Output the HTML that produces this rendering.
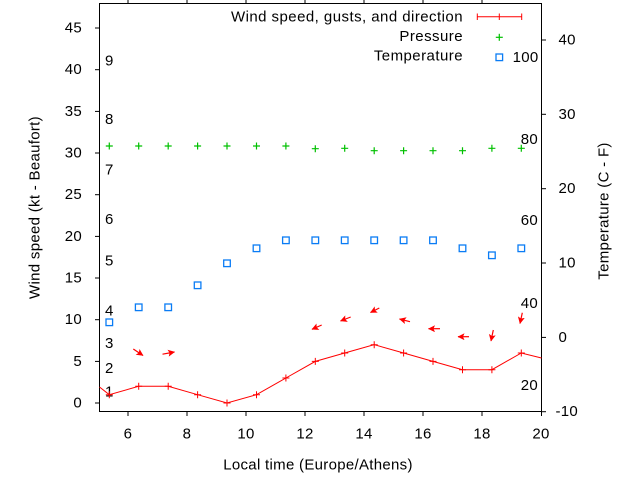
<!DOCTYPE html>
<html><head><meta charset="utf-8"><style>
html,body{margin:0;padding:0;background:#fff;}
svg{display:block;}
text{font-family:"Liberation Sans",Arial,sans-serif;font-size:15px;fill:#000;letter-spacing:0.3px;}
.lg text{letter-spacing:0.45px;}
</style></head><body>
<svg width="640" height="480" viewBox="0 0 640 480" xmlns="http://www.w3.org/2000/svg">
<defs>
<marker id="ah" markerWidth="10" markerHeight="10" refX="6.5" refY="3.5" orient="auto" markerUnits="userSpaceOnUse">
<path d="M0,0 L7,3.5 L0,7 L1.5,3.5 z" fill="#ff0000"/>
</marker>
</defs>
<rect x="0" y="0" width="640" height="480" fill="#fff"/>
<!-- frame -->
<rect x="99.5" y="3.5" width="442" height="408" fill="none" stroke="#000" stroke-width="1"/>
<!-- left ticks -->
<g stroke="#000" stroke-width="1">
<line x1="95" y1="403" x2="99.5" y2="403"/>
<line x1="95" y1="361.4" x2="99.5" y2="361.4"/>
<line x1="95" y1="319.7" x2="99.5" y2="319.7"/>
<line x1="95" y1="278" x2="99.5" y2="278"/>
<line x1="95" y1="236.4" x2="99.5" y2="236.4"/>
<line x1="95" y1="194.7" x2="99.5" y2="194.7"/>
<line x1="95" y1="153" x2="99.5" y2="153"/>
<line x1="95" y1="111.4" x2="99.5" y2="111.4"/>
<line x1="95" y1="69.7" x2="99.5" y2="69.7"/>
<line x1="95" y1="28" x2="99.5" y2="28"/>
<!-- right ticks -->
<line x1="541.5" y1="411.7" x2="546" y2="411.7"/>
<line x1="541.5" y1="337.4" x2="546" y2="337.4"/>
<line x1="541.5" y1="263" x2="546" y2="263"/>
<line x1="541.5" y1="188.7" x2="546" y2="188.7"/>
<line x1="541.5" y1="114.3" x2="546" y2="114.3"/>
<line x1="541.5" y1="40" x2="546" y2="40"/>
<!-- bottom ticks -->
<line x1="128" y1="411.5" x2="128" y2="416"/>
<line x1="187" y1="411.5" x2="187" y2="416"/>
<line x1="246" y1="411.5" x2="246" y2="416"/>
<line x1="305" y1="411.5" x2="305" y2="416"/>
<line x1="364" y1="411.5" x2="364" y2="416"/>
<line x1="423" y1="411.5" x2="423" y2="416"/>
<line x1="482" y1="411.5" x2="482" y2="416"/>
<line x1="541.5" y1="411.5" x2="541.5" y2="416"/>
<!-- top ticks -->
<line x1="128" y1="0" x2="128" y2="3.5"/>
<line x1="187" y1="0" x2="187" y2="3.5"/>
<line x1="246" y1="0" x2="246" y2="3.5"/>
<line x1="305" y1="0" x2="305" y2="3.5"/>
<line x1="364" y1="0" x2="364" y2="3.5"/>
<line x1="423" y1="0" x2="423" y2="3.5"/>
<line x1="482" y1="0" x2="482" y2="3.5"/>
</g>
<!-- left tick labels -->
<g text-anchor="end" dominant-baseline="central">
<text x="82" y="403">0</text>
<text x="82" y="361.4">5</text>
<text x="82" y="319.7">10</text>
<text x="82" y="278">15</text>
<text x="82" y="236.4">20</text>
<text x="82" y="194.7">25</text>
<text x="82" y="153">30</text>
<text x="82" y="111.4">35</text>
<text x="82" y="69.7">40</text>
<text x="82" y="28">45</text>
</g>
<!-- right tick labels -->
<g text-anchor="start" dominant-baseline="central">
<text x="555.5" y="411.7">-10</text>
<text x="558.5" y="337.4">0</text>
<text x="558.5" y="263">10</text>
<text x="558.5" y="188.7">20</text>
<text x="558.5" y="114.3">30</text>
<text x="558.5" y="40">40</text>
</g>
<!-- bottom tick labels -->
<g text-anchor="middle" dominant-baseline="central">
<text x="128" y="434">6</text>
<text x="187" y="434">8</text>
<text x="246" y="434">10</text>
<text x="305" y="434">12</text>
<text x="364" y="434">14</text>
<text x="423" y="434">16</text>
<text x="482" y="434">18</text>
<text x="541" y="434">20</text>
</g>
<!-- axis titles -->
<text x="318" y="465" text-anchor="middle" dominant-baseline="central">Local time (Europe/Athens)</text>
<text transform="translate(35,207.5) rotate(-90)" text-anchor="middle" dominant-baseline="central">Wind speed (kt - Beaufort)</text>
<text transform="translate(604,211) rotate(-90)" text-anchor="middle" dominant-baseline="central">Temperature (C - F)</text>
<!-- Beaufort labels -->
<g text-anchor="start" dominant-baseline="central">
<text x="105" y="392">1</text>
<text x="105" y="368.5">2</text>
<text x="105" y="343.5">3</text>
<text x="105" y="311">4</text>
<text x="105" y="261">5</text>
<text x="105" y="219.5">6</text>
<text x="105" y="170">7</text>
<text x="105" y="119.5">8</text>
<text x="105" y="61">9</text>
</g>
<!-- Fahrenheit labels -->
<g text-anchor="end" dominant-baseline="central">
<text x="538.5" y="57.3">100</text>
<text x="538" y="139.3">80</text>
<text x="538" y="220.7">60</text>
<text x="538" y="303.3">40</text>
<text x="538" y="385.7">20</text>
</g>
<!-- legend -->
<g class="lg" text-anchor="end" dominant-baseline="central">
<text x="463" y="17">Wind speed, gusts, and direction</text>
<text x="463" y="36.5">Pressure</text>
<text x="463" y="56">Temperature</text>
</g>
<g stroke="#ff0000" stroke-width="1">
<line x1="477.3" y1="16.7" x2="521.7" y2="16.7"/>
<line x1="477.3" y1="13.5" x2="477.3" y2="20"/>
<line x1="521.7" y1="13.5" x2="521.7" y2="20"/>
<line x1="499.3" y1="13.5" x2="499.3" y2="20"/>
</g>
<g stroke="#00c000" stroke-width="1.2">
<line x1="495.8" y1="37.3" x2="502.8" y2="37.3"/>
<line x1="499.3" y1="33.8" x2="499.3" y2="40.8"/>
</g>
<rect x="496" y="54" width="6.6" height="6.6" fill="none" stroke="#0a7cf5" stroke-width="1.3"/>
<!-- wind line -->
<polyline fill="none" stroke="#ff0000" stroke-width="1" points="99.5,387 109.3,394.7 138.7,386.3 168.2,386.3 197.6,394.7 227,403 256.5,394.7 285.9,378 315.3,361.4 344.7,353 374.2,344.7 403.6,353 433,361.4 462.5,369.7 491.9,369.7 521.3,353 541.5,358"/>
<g stroke="#ff0000" stroke-width="1">
<path d="M109.3,391.2v7M138.7,382.8v7M168.2,382.8v7M197.6,391.2v7M227,399.5v7M256.5,391.2v7M285.9,374.5v7M315.3,357.9v7M344.7,349.5v7M374.2,341.2v7M403.6,349.5v7M433,357.9v7M462.5,366.2v7M491.9,366.2v7M521.3,349.5v7"/>
<path d="M105.8,394.7h7M135.2,386.3h7M164.7,386.3h7M194.1,394.7h7M223.5,403h7M253,394.7h7M282.4,378h7M311.8,361.4h7M341.2,353h7M370.7,344.7h7M400.1,353h7M429.5,361.4h7M459,369.7h7M488.4,369.7h7M517.8,353h7"/>
</g>
<!-- arrows -->
<g stroke="#ff0000" stroke-width="1.2" marker-end="url(#ah)">
<line x1="133.3" y1="349" x2="143" y2="355.5"/>
<line x1="162.5" y1="354.2" x2="174.5" y2="352"/>
<line x1="321.7" y1="325" x2="312" y2="329.3"/>
<line x1="350.7" y1="317" x2="340.5" y2="321"/>
<line x1="379.3" y1="308" x2="370.5" y2="312.5"/>
<line x1="410" y1="321.7" x2="399.5" y2="319"/>
<line x1="440" y1="328.7" x2="428.5" y2="328.7"/>
<line x1="469" y1="336.7" x2="458" y2="336.7"/>
<line x1="493.3" y1="330" x2="491" y2="341"/>
<line x1="522.3" y1="312.7" x2="520" y2="323.5"/>
</g>
<!-- pressure -->
<g stroke="#00c000" stroke-width="1.2">
<path d="M105.8,146h7M109.3,142.5v7M135.2,146h7M138.7,142.5v7M164.7,146h7M168.2,142.5v7M194.1,146h7M197.6,142.5v7M223.5,146h7M227,142.5v7M253,146h7M256.5,142.5v7M282.4,146h7M285.9,142.5v7M311.8,148.7h7M315.3,145.2v7M341.2,148.3h7M344.7,144.8v7M370.7,150.7h7M374.2,147.2v7M400.1,150.7h7M403.6,147.2v7M429.5,150.7h7M433,147.2v7M459,150.7h7M462.5,147.2v7M488.4,148.3h7M491.9,144.8v7M517.8,148.3h7M521.3,144.8v7"/>
</g>
<!-- temperature -->
<g fill="none" stroke="#0a7cf5" stroke-width="1.3">
<rect x="106" y="319" width="6.6" height="6.6"/>
<rect x="135.4" y="304" width="6.6" height="6.6"/>
<rect x="164.9" y="304" width="6.6" height="6.6"/>
<rect x="194.3" y="282" width="6.6" height="6.6"/>
<rect x="223.7" y="260" width="6.6" height="6.6"/>
<rect x="253.2" y="245" width="6.6" height="6.6"/>
<rect x="282.6" y="237" width="6.6" height="6.6"/>
<rect x="312" y="237" width="6.6" height="6.6"/>
<rect x="341.4" y="237" width="6.6" height="6.6"/>
<rect x="370.9" y="237" width="6.6" height="6.6"/>
<rect x="400.3" y="237" width="6.6" height="6.6"/>
<rect x="429.7" y="237" width="6.6" height="6.6"/>
<rect x="459.2" y="245" width="6.6" height="6.6"/>
<rect x="488.6" y="252" width="6.6" height="6.6"/>
<rect x="518" y="245" width="6.6" height="6.6"/>
</g>
</svg>
</body></html>
